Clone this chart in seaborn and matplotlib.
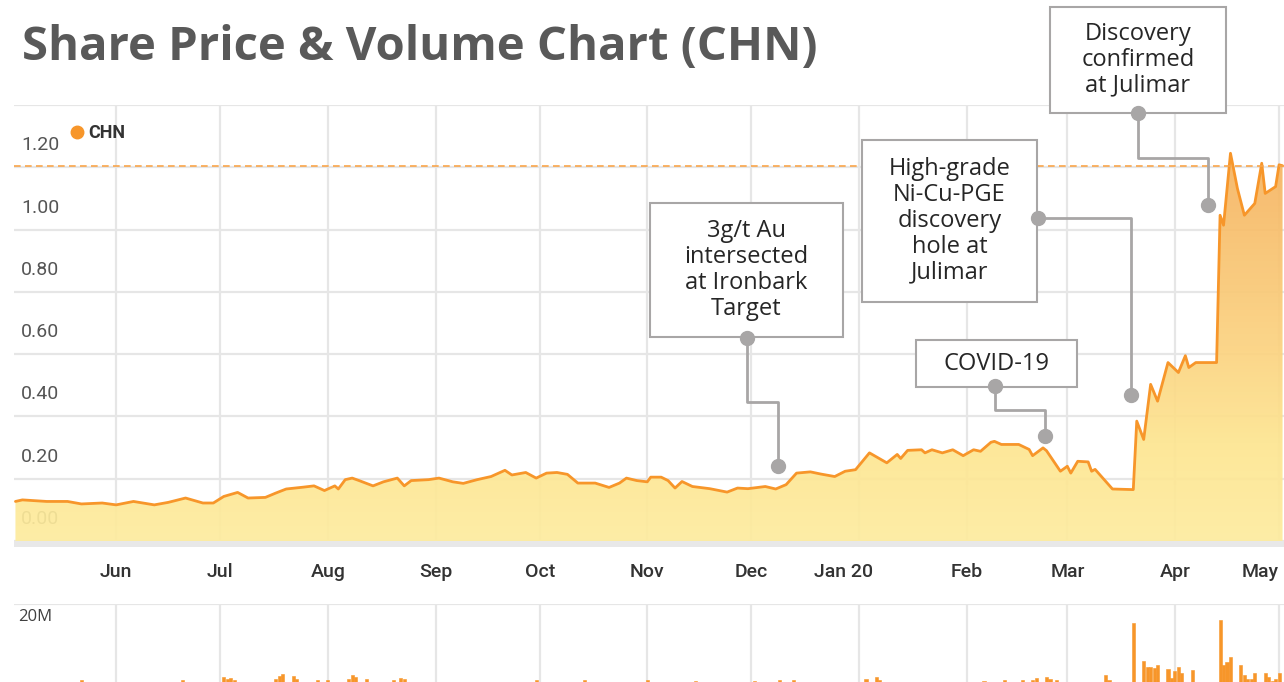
import numpy as np
import pandas as pd
import matplotlib
matplotlib.use("Agg")
import matplotlib.pyplot as plt
import matplotlib.dates as mdates
import seaborn as sns
from matplotlib.colors import LinearSegmentedColormap
from matplotlib.transforms import ScaledTranslation
from matplotlib.patches import Rectangle
from matplotlib.lines import Line2D

# share price (A$)
price_dates = [
    "2019-05-03", "2019-05-05", "2019-05-12", "2019-05-18", "2019-05-22", "2019-05-28",
    "2019-06-01", "2019-06-06", "2019-06-12", "2019-06-16", "2019-06-21", "2019-06-26",
    "2019-06-29", "2019-07-02", "2019-07-06", "2019-07-09", "2019-07-14", "2019-07-17",
    "2019-07-20", "2019-07-25", "2019-07-28", "2019-07-31", "2019-08-03", "2019-08-04",
    "2019-08-06", "2019-08-08", "2019-08-10", "2019-08-14", "2019-08-17", "2019-08-21",
    "2019-08-23", "2019-08-25", "2019-08-30", "2019-09-02", "2019-09-06", "2019-09-09",
    "2019-09-13", "2019-09-17", "2019-09-21", "2019-09-23", "2019-09-27", "2019-09-30",
    "2019-10-03", "2019-10-06", "2019-10-09", "2019-10-12", "2019-10-17", "2019-10-21",
    "2019-10-24", "2019-10-26", "2019-10-29", "2019-11-01", "2019-11-02", "2019-11-05",
    "2019-11-07", "2019-11-09", "2019-11-11", "2019-11-14", "2019-11-19", "2019-11-24",
    "2019-11-27", "2019-11-30", "2019-12-05", "2019-12-08", "2019-12-11", "2019-12-14",
    "2019-12-18", "2019-12-21", "2019-12-25", "2019-12-28", "2019-12-31", "2020-01-04",
    "2020-01-09", "2020-01-12", "2020-01-13", "2020-01-15", "2020-01-19", "2020-01-20",
    "2020-01-22", "2020-01-25", "2020-01-28", "2020-01-31", "2020-02-03", "2020-02-05",
    "2020-02-08", "2020-02-09", "2020-02-11", "2020-02-16", "2020-02-19", "2020-02-20",
    "2020-02-23", "2020-02-24", "2020-02-28", "2020-03-01", "2020-03-02", "2020-03-04",
    "2020-03-07", "2020-03-08", "2020-03-09", "2020-03-14", "2020-03-20", "2020-03-21",
    "2020-03-23", "2020-03-25", "2020-03-27", "2020-03-30", "2020-04-02", "2020-04-04",
    "2020-04-05", "2020-04-07", "2020-04-13", "2020-04-14", "2020-04-15", "2020-04-17",
    "2020-04-19", "2020-04-21", "2020-04-24", "2020-04-26", "2020-04-27", "2020-04-30",
    "2020-05-01", "2020-05-02",
]
price = [
    0.127, 0.132, 0.127, 0.127, 0.119, 0.122,
    0.116, 0.127, 0.116, 0.124, 0.138, 0.122,
    0.122, 0.143, 0.156, 0.138, 0.140, 0.154,
    0.167, 0.173, 0.177, 0.162, 0.177, 0.167,
    0.197, 0.202, 0.194, 0.177, 0.190, 0.202,
    0.177, 0.194, 0.197, 0.202, 0.190, 0.185,
    0.197, 0.207, 0.227, 0.212, 0.220, 0.202,
    0.218, 0.220, 0.214, 0.186, 0.186, 0.172,
    0.186, 0.202, 0.194, 0.190, 0.205, 0.205,
    0.194, 0.170, 0.191, 0.175, 0.168, 0.157,
    0.170, 0.168, 0.175, 0.167, 0.181, 0.218,
    0.222, 0.215, 0.207, 0.224, 0.229, 0.283,
    0.251, 0.278, 0.265, 0.291, 0.293, 0.283,
    0.293, 0.283, 0.293, 0.274, 0.293, 0.288,
    0.317, 0.320, 0.310, 0.310, 0.294, 0.274,
    0.299, 0.290, 0.224, 0.240, 0.218, 0.256,
    0.254, 0.224, 0.230, 0.167, 0.165, 0.385,
    0.326, 0.503, 0.449, 0.573, 0.541, 0.595,
    0.557, 0.573, 0.573, 1.046, 1.014, 1.245,
    1.132, 1.046, 1.084, 1.213, 1.116, 1.138,
    1.208, 1.205,
]

# daily volume (millions); only the taller bars show above the cut-off edge
vol_dates = [
    "2019-05-22", "2019-06-20", "2019-07-02", "2019-07-03", "2019-07-04", "2019-07-05",
    "2019-07-17", "2019-07-18", "2019-07-19", "2019-07-22", "2019-07-23", "2019-07-29",
    "2019-08-01", "2019-08-07", "2019-08-08", "2019-08-09", "2019-08-12", "2019-08-20",
    "2019-08-22", "2019-08-23", "2019-09-10", "2019-09-30", "2019-10-14", "2019-11-01",
    "2019-11-15", "2019-12-02", "2019-12-09", "2019-12-13", "2020-01-03", "2020-01-06",
    "2020-01-07", "2020-02-06", "2020-02-12", "2020-02-17", "2020-02-20", "2020-02-21",
    "2020-02-24", "2020-02-25", "2020-02-27", "2020-03-12", "2020-03-13",
    "2020-03-20", "2020-03-23", "2020-03-24", "2020-03-25", "2020-03-26", "2020-03-27",
    "2020-03-30", "2020-03-31", "2020-04-01", "2020-04-02", "2020-04-03", "2020-04-06",
    "2020-04-14", "2020-04-15", "2020-04-16", "2020-04-17", "2020-04-20", "2020-04-21",
    "2020-04-22", "2020-04-23", "2020-04-24", "2020-04-27", "2020-04-28", "2020-04-29",
    "2020-04-30", "2020-05-01",
]
volume = [
    4.2, 4.2, 4.8, 4.3, 4.6, 4.1,
    4.4, 4.9, 5.4, 5.0, 4.3, 4.1,
    4.1, 4.4, 5.2, 4.7, 4.3, 4.2,
    4.5, 4.3, 3.2, 4.1, 4.2, 4.1,
    4.0, 4.0, 4.1, 4.1, 4.3, 4.7,
    4.1, 4.0, 4.1, 4.2, 4.2, 4.5,
    4.7, 4.3, 4.1, 5.2, 4.2,
    16.1, 8.2, 6.9, 6.9, 6.7, 7.3,
    6.5, 4.6, 6.1, 6.9, 5.6, 6.25,
    16.7, 7.3, 7.9, 9.0, 7.3, 5.2,
    4.4, 4.4, 5.6, 5.6, 4.8, 3.9,
    4.4, 5.6,
]

month_labels = ["Jun", "Jul", "Aug", "Sep", "Oct", "Nov", "Dec",
                "Jan 20", "Feb", "Mar", "Apr", "May"]
price_ticks = ["0.00", "0.20", "0.40", "0.60", "0.80", "1.00", "1.20", ""]

notes = [
    "3g/t Au\nintersected\nat Ironbark\nTarget",
    "COVID-19",
    "High-grade\nNi-Cu-PGE\ndiscovery\nhole at\nJulimar",
    "Discovery\nconfirmed\nat Julimar",
]

W, H = 1284, 682
ORANGE = "#f7962a"
GRID = "#e6e6e6"
CALLOUT = "#a8a6a6"


def fx(x):
    return x / W


def fy(y):
    return 1 - y / H


sns.set_theme(style="white")
plt.rcParams["font.family"] = ["Roboto", "DejaVu Sans"]

fig = plt.figure(figsize=(W / 100, H / 100), dpi=100)
fig.patch.set_facecolor("white")

ax = fig.add_axes([fx(14), fy(541), 1 - fx(14), (541 - 105) / H])
axv = fig.add_axes([fx(14), fy(700), 1 - fx(14), (700 - 604) / H], sharex=ax)

df = pd.DataFrame({"date": pd.to_datetime(price_dates), "price": price})
vdf = pd.DataFrame({"date": pd.to_datetime(vol_dates), "volume": volume})

# price line + gradient area
sns.lineplot(data=df, x="date", y="price", ax=ax, color=ORANGE, linewidth=2.0, zorder=4)
area = ax.fill_between(df["date"], df["price"], 0, facecolor="none", edgecolor="none")
cmap = LinearSegmentedColormap.from_list(
    "chn", [(0, "#feec9e"), (0.25, "#fde590"), (0.5, "#fbd27f"), (1, "#f6b25f")])
xnum = mdates.date2num(df["date"])
im = ax.imshow(np.linspace(0, 1, 256).reshape(-1, 1), extent=[xnum[0], xnum[-1], 0, 1.25],
               origin="lower", aspect="auto", cmap=cmap, alpha=0.92, zorder=1)
im.set_clip_path(area.get_paths()[0], transform=ax.transData)
ax.axhline(df["price"].iloc[-1], color="#f9a54a", lw=1.2, ls=(0, (4, 2.6)), zorder=5)

ax.set_xlim(pd.Timestamp("2019-05-02 14:00"), pd.Timestamp("2020-05-02 10:00"))
ax.set_ylim(0, 1.4)
ax.set_yticks(np.arange(len(price_ticks)) * 0.2)
ax.set_yticklabels(price_ticks, ha="left")
months = pd.date_range("2019-06-01", "2020-05-01", freq="MS")
ax.set_xticks(months)
ax.set_xticklabels(month_labels)
ax.set_xlabel("")
ax.set_ylabel("")
ax.grid(True, color=GRID, lw=1.6)
ax.set_axisbelow(True)
ax.tick_params(axis="y", length=0, pad=-5, labelsize=14, labelcolor="#555555")
ax.tick_params(axis="x", length=0, pad=16, labelsize=14, labelcolor="#333333")
for lab in ax.get_xticklabels():
    lab.set_fontweight("medium")
for lab in ax.get_yticklabels():
    lab.set_transform(lab.get_transform() + ScaledTranslation(0, 24 / 100, fig.dpi_scale_trans))
xl = ax.get_xticklabels()
xl[7].set_transform(xl[7].get_transform() + ScaledTranslation(-15 / 100, 0, fig.dpi_scale_trans))
xl[-1].set_ha("right")
for s in ax.spines.values():
    s.set_visible(False)

handle = Line2D([], [], marker="o", ls="", color=ORANGE, markersize=9)
ax.legend([handle], ["CHN"], loc="center left", bbox_to_anchor=(fx(68), fy(133)),
          bbox_transform=fig.transFigure, frameon=False, handlelength=1.0,
          handletextpad=0.1, borderpad=0, borderaxespad=0,
          prop={"family": "Roboto", "weight": "bold", "size": 13}, labelcolor="#333333")

# volume panel
axv.bar(vdf["date"], vdf["volume"], width=0.9, color=ORANGE, edgecolor=ORANGE, lw=0.4, zorder=2)
axv.set_ylim(0, 20)
axv.set_yticks([20])
axv.set_yticklabels(["20M"], ha="left", family=["Open Sans", "DejaVu Sans"])
axv.grid(True, color=GRID, lw=1.6)
axv.set_axisbelow(True)
axv.tick_params(axis="y", length=0, pad=-3, labelsize=12, labelcolor="#404040")
axv.tick_params(axis="x", length=0, labelbottom=False)
for lab in axv.get_yticklabels():
    lab.set_transform(lab.get_transform() + ScaledTranslation(0, -11 / 100, fig.dpi_scale_trans))
for s in axv.spines.values():
    s.set_visible(False)

# scrollbar strip under the price area
fig.add_artist(Rectangle((fx(14), fy(547)), 1 - fx(14), 6 / H, transform=fig.transFigure,
                         facecolor="#e8e8e8", edgecolor="none", zorder=1))

fig.text(fx(22), fy(47), "Share Price & Volume Chart (CHN)", fontsize=34, fontweight="bold",
         color="#595959", family=["Open Sans", "DejaVu Sans"], ha="left", va="center")

# call-out boxes
boxes = [(650, 203, 843, 337), (916, 340, 1077, 387), (862, 140, 1037, 302), (1050, 7, 1226, 113)]
leaders = [
    [(747, 338), (747, 402), (778, 402), (778, 466)],
    [(995, 386), (995, 410), (1045, 410), (1045, 436)],
    [(1038, 218), (1131, 218), (1131, 395)],
    [(1138, 113), (1138, 158), (1208, 158), (1208, 205)],
]
for note, (x0, y0, x1, y1), path in zip(notes, boxes, leaders):
    fig.add_artist(Rectangle((fx(x0), fy(y1)), fx(x1) - fx(x0), (y1 - y0) / H,
                             transform=fig.transFigure, facecolor="white",
                             edgecolor=CALLOUT, lw=1.5, zorder=6))
    fig.text(fx((x0 + x1) / 2), fy((y0 + y1) / 2), note, ha="center", va="center",
             multialignment="center", fontsize=17, linespacing=1.1, color="#262626",
             family=["Open Sans", "DejaVu Sans"], zorder=7)
    xs = [fx(p[0]) for p in path]
    ys = [fy(p[1]) for p in path]
    fig.add_artist(Line2D(xs, ys, transform=fig.transFigure, color=CALLOUT, lw=2.0, zorder=8))
    fig.add_artist(Line2D([xs[0], xs[-1]], [ys[0], ys[-1]], transform=fig.transFigure, ls="",
                          marker="o", markersize=10, color=CALLOUT, zorder=9))

fig.savefig("out.png", dpi=100, facecolor="white")
